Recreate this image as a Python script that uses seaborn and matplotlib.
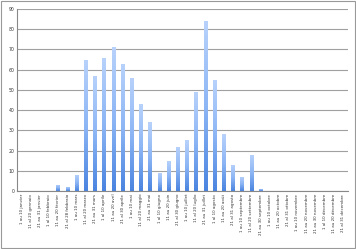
import matplotlib
matplotlib.use("Agg")
import matplotlib.pyplot as plt
import seaborn as sns
import numpy as np
import pandas as pd
from matplotlib.colors import LinearSegmentedColormap
from matplotlib.patches import Rectangle

categories = [
    "1 au 10 janvier", "11 al 20 gennaio", "21 au 31 janvier",
    "1 al 10 febbraio", "11 au 20 février", "21 al 28 febbraio",
    "1 au 10 mars", "11 al 20 marzo", "21 au 31 mars",
    "1 al 10 aprile", "11 au 20 avril", "21 al 30 aprile",
    "1 au 10 mai", "11 al 20 maggio", "21 au 31 mai",
    "1 al 10 giugno", "11 au 20 juin", "21 al 30 giugno",
    "1 au 10 juillet", "11 al 20 luglio", "21 au 31 juillet",
    "1 al 10 agosto", "11 au 20 août", "21 al 31 agosto",
    "1 au 10 septembre", "11 al 20 settembre", "21 au 30 septembre",
    "1 au 10 octobre", "11 au 20 octobre", "21 al 31 ottobre",
    "1 au 10 novembre", "11 au 20 novembre", "21 au 30 novembre",
    "1 al 10 décembre", "11 au 20 décembre", "21 al 31 décembre",
]
values = [0, 0, 0, 0, 3, 2, 8, 65, 57, 66, 71, 63, 56, 43, 34, 9, 15, 22,
          25, 49, 84, 55, 28, 13, 7, 18, 1, 0, 0, 0, 0, 0, 0, 0, 0, 0]
yticks = [0, 10, 20, 30, 40, 50, 60, 70, 80, 90]

df = pd.DataFrame({"cat": categories, "val": values})

sns.set_theme(style="white")
plt.rcParams['font.family'] = ['DejaVu Sans']

fig = plt.figure(figsize=(3.56, 2.49), dpi=100)
ax = fig.add_axes([17/356, 1 - 191/249, 331/356, 182/249])

sns.barplot(data=df, x="cat", y="val", color="#7aaaf2", width=0.42,
            ax=ax, saturation=1, linewidth=0)

# gradient fill inside each bar
cmap = LinearSegmentedColormap.from_list("g", ["#4a84e0", "#8db6f5", "#b8d2fb"])
grad = np.linspace(0, 1, 256).reshape(-1, 1)
for p in list(ax.patches):
    h = p.get_height()
    if h <= 0:
        continue
    x0 = p.get_x(); w = p.get_width()
    im = ax.imshow(grad, cmap=cmap, origin="lower", aspect="auto",
                   extent=[x0, x0 + w, 0, h], zorder=p.get_zorder() + 0.1)
    im.set_clip_path(p)
ax.set_xlim(-0.5, len(categories) - 0.5)
ax.set_ylim(0, 90)
ax.set_yticks(yticks)
ax.set_yticklabels([str(t) for t in yticks], fontsize=3.3, color="#333333")
ax.set_xticks(range(len(categories)))
ax.set_xticklabels(categories, rotation=90, fontsize=2.9, color="#333333")
ax.tick_params(axis="both", length=0, pad=2)
ax.yaxis.grid(True, color="#a0a0a0", linewidth=0.8)
ax.set_axisbelow(True)
ax.set_xlabel("")
ax.set_ylabel("")
for s in ["top", "right"]:
    ax.spines[s].set_visible(False)
ax.spines["left"].set_color("#888888")
ax.spines["left"].set_linewidth(0.8)
ax.spines["bottom"].set_color("#888888")
ax.spines["bottom"].set_linewidth(0.8)

fig.patches.append(Rectangle((0.002, 0.004), 0.994, 0.992, transform=fig.transFigure,
                             fill=False, edgecolor="#999999", linewidth=0.8))

fig.savefig("out.png", dpi=100)
